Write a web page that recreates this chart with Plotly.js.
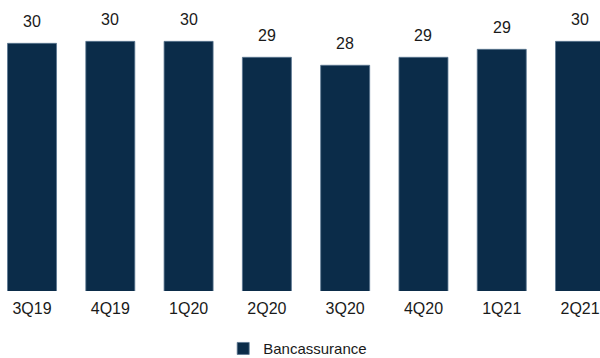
<!DOCTYPE html>
<html>
<head>
<meta charset="utf-8">
<script src="https://cdn.plot.ly/plotly-3.0.1.min.js"></script>
<style>html,body{margin:0;padding:0;background:#fff;}#chart{width:600px;height:358px;}</style>
</head>
<body>
<div id="chart"></div>
<script>
const categories = ["3Q19", "4Q19", "1Q20", "2Q20", "3Q20", "4Q20", "1Q21", "2Q21"];
const bancassurance = [29.86, 30.0, 30.0, 28.86, 28.29, 28.86, 29.43, 30.0];
const seriesName = "Bancassurance";

const FONT = "'Liberation Sans', Arial, sans-serif";
const NAVY = "#0b2c49";

const annotations = categories.map((c, i) => ({
  x: c, y: bancassurance[i], xref: "x", yref: "y",
  text: String(Math.round(bancassurance[i])),
  showarrow: false, yanchor: "bottom", yshift: 11,
  font: {family: FONT, size: 16, color: "#1a1a1a"}
}));

const trace = {
  type: "bar", x: categories, y: bancassurance, name: seriesName,
  marker: {color: NAVY, line: {color: "#5b7690", width: 0.8}},
  showlegend: true, hoverinfo: "x+y"
};

const layout = {
  width: 600, height: 358,
  margin: {l: 0, r: 0, t: 0, b: 66.5, pad: 0, autoexpand: false},
  paper_bgcolor: "#ffffff", plot_bgcolor: "#ffffff",
  bargap: 0.374,
  xaxis: {type: "category", range: [-0.409, 7.255], showline: false, showgrid: false, zeroline: false,
          automargin: false, ticks: "", ticklen: 0, ticklabelstandoff: 6,
          tickfont: {family: FONT, size: 16, color: "#1a1a1a"}, fixedrange: true},
  yaxis: {range: [12.14, 32.96], visible: false, showgrid: false, zeroline: false, automargin: false, fixedrange: true},
  showlegend: true,
  legend: {orientation: "h", x: 0.372, xanchor: "left", yref: "container", y: 0.026, yanchor: "middle",
           font: {family: FONT, size: 15, color: "#1a1a1a"}, bgcolor: "rgba(0,0,0,0)"},
  annotations: annotations,
  font: {family: FONT}
};

Plotly.newPlot("chart", [trace], layout, {displayModeBar: false, staticPlot: true});
</script>
</body>
</html>
